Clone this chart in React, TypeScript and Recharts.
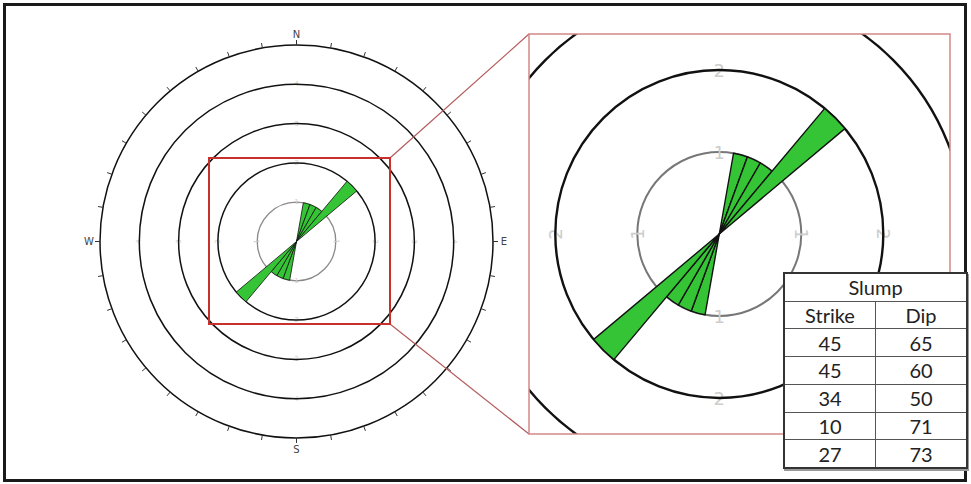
import React from 'react';
import { RadialBarChart, RadialBar, RadarChart, Radar, PolarAngleAxis, PolarRadiusAxis, PolarGrid } from 'recharts';

// ---- data ----
const strikes = [45, 45, 34, 10, 27];
const dips = [65, 60, 50, 71, 73];
const binStarts = [0, 10, 20, 30, 40, 50, 60, 70, 80, 90, 100, 110, 120, 130, 140, 150, 160, 170,
  180, 190, 200, 210, 220, 230, 240, 250, 260, 270, 280, 290, 300, 310, 320, 330, 340, 350];
const compassTicks = binStarts;
const cardinalLabels: Record<number, string> = { 0: 'N', 90: 'E', 180: 'S', 270: 'W' };
const innerRingTicks = [1];
const outerRingTicks = [2, 3, 4];
const labelTicks = [1, 2, 3, 4];
const insetLabelTicks = [1, 2];
const tableTitle = 'Slump';
const tableHeaders = ['Strike', 'Dip'];

// bidirectional rose histogram built from the strikes
const roseData = binStarts.map((b) => ({
  bin: String(b),
  count: strikes.filter((s) => Math.floor(s / 10) * 10 === b || Math.floor(((s + 180) % 360) / 10) * 10 === b).length,
}));
const compassData = compassTicks.map((d) => ({ deg: d, v: 0 }));

const GREEN = '#35c435';
// band start of category i lands on the scale value; shift range by one band so bins read clockwise from N
const START = 80;
const END = -280;

type RoseProps = {
  width: number; height: number; cx: number; cy: number; outerRadius: number;
  showCompass: boolean; labelSize: number; labelColor: string; labels: number[];
  ring1Color: string; ring1Width: number; ringWidth: number; petalStroke: number;
};

const makeRadiusTick = (size: number, color: string, rot: number) => (props: any) => {
  const { x, y, payload } = props;
  return (
    <text x={x} y={y} textAnchor="middle" dominantBaseline="central" fontSize={size} fill={color}
      fontFamily="DejaVu Sans" transform={rot ? `rotate(${rot}, ${x}, ${y})` : undefined}>
      {payload.value}
    </text>
  );
};

const abs: React.CSSProperties = { position: 'absolute', left: 0, top: 0 };

const Rose = (p: RoseProps) => {
  const compassTick = (props: any) => {
    const { x, y, payload } = props;
    const label = cardinalLabels[Number(payload.value)];
    if (!label) return <g />;
    const dx = x - p.cx, dy = y - p.cy;
    const d = Math.hypot(dx, dy) || 1;
    return (
      <text x={x + (dx / d) * 6} y={y + (dy / d) * 6} textAnchor="middle" dominantBaseline="central"
        fontSize={10} fill="#444" fontFamily="DejaVu Sans">{label}</text>
    );
  };
  const axisAngles = [
    { id: 'n', angle: 90, rot: 0 },
    { id: 'e', angle: 0, rot: 90 },
    { id: 's', angle: 270, rot: 0 },
    { id: 'w', angle: 180, rot: -90 },
  ];
  const common = {
    width: p.width, height: p.height, data: roseData, layout: 'centric' as const,
    cx: p.cx, cy: p.cy, innerRadius: 0, outerRadius: p.outerRadius,
    startAngle: START, endAngle: END, barCategoryGap: 0, barGap: 0,
    margin: { top: 0, right: 0, bottom: 0, left: 0 },
  };
  return (
    <div style={{ position: 'relative', width: p.width, height: p.height }}>
      {/* under layer: inner grey ring and faint radius labels */}
      <div style={abs}>
        <RadialBarChart {...common}>
          <PolarAngleAxis angleAxisId={0} type="category" dataKey="bin" tick={false} tickLine={false} axisLine={false} />
          <PolarRadiusAxis radiusAxisId="g1" type="number" domain={[0, 5]} ticks={innerRingTicks}
            tick={false} tickLine={false} axisLine={false} />
          <PolarGrid angleAxisId={0} radiusAxisId="g1" gridType="circle" radialLines={false}
            stroke={p.ring1Color} strokeWidth={p.ring1Width} />
          {axisAngles.map((a) => (
            <PolarRadiusAxis key={a.id} radiusAxisId={a.id} type="number" domain={[0, 5]} ticks={p.labels}
              angle={a.angle} axisLine={false} tickLine={false}
              tick={makeRadiusTick(p.labelSize, p.labelColor, a.rot)} />
          ))}
          <RadialBar angleAxisId={0} radiusAxisId="g1" dataKey="count" fill="none" stroke="none" isAnimationActive={false} />
          {axisAngles.map((a) => (
            <RadialBar key={a.id} angleAxisId={0} radiusAxisId={a.id} dataKey="count" fill="none" stroke="none"
              isAnimationActive={false} />
          ))}
        </RadialBarChart>
      </div>
      {/* main layer: rings and petals */}
      <div style={abs}>
        <RadialBarChart {...common}>
          <PolarAngleAxis angleAxisId={0} type="category" dataKey="bin" tick={false} tickLine={false} axisLine={false} />
          <PolarRadiusAxis radiusAxisId={0} type="number" domain={[0, 5]} ticks={outerRingTicks}
            tick={false} tickLine={false} axisLine={false} />
          <PolarGrid angleAxisId={0} radiusAxisId={0} gridType="circle" radialLines={false}
            stroke="#111" strokeWidth={p.ringWidth} />
          <RadialBar angleAxisId={0} radiusAxisId={0} dataKey="count" fill={GREEN} stroke="#111"
            strokeWidth={p.petalStroke} isAnimationActive={false} />
        </RadialBarChart>
      </div>
      {p.showCompass && (
        <div style={abs}>
          <RadarChart width={p.width} height={p.height} data={compassData} cx={p.cx} cy={p.cy}
            innerRadius={0} outerRadius={p.outerRadius} startAngle={90} endAngle={-270}
            margin={{ top: 0, right: 0, bottom: 0, left: 0 }}>
            <PolarAngleAxis dataKey="deg" axisLineType="circle" axisLine={{ stroke: '#111', strokeWidth: 1.5 }}
              tickLine={{ stroke: '#333', strokeWidth: 1 }} tickSize={5} orient="outer" tick={compassTick} />
            <PolarRadiusAxis domain={[0, 5]} tick={false} axisLine={false} tickLine={false} />
            <Radar dataKey="v" fill="none" stroke="none" isAnimationActive={false} />
          </RadarChart>
        </div>
      )}
    </div>
  );
};

export default function App() {
  const cell: React.CSSProperties = {
    border: '1.5px solid #555', height: 26, padding: 0, textAlign: 'center', verticalAlign: 'middle',
  };
  return (
    <div style={{ position: 'absolute', left: 0, top: 0, width: 971, height: 484, background: '#fff', overflow: 'hidden' }}>
      <div style={{ position: 'absolute', left: 3, top: 3, width: 958, height: 473, border: '3px solid #1a1a1a' }} />
      <div style={{ position: 'absolute', left: 0, top: 0 }}>
        <Rose width={600} height={484} cx={296.5} cy={241.5} outerRadius={196.5} showCompass={true}
          labelSize={7} labelColor="#d0d0d0" labels={labelTicks} ring1Color="#8a8a8a" ring1Width={1.3}
          ringWidth={1.5} petalStroke={0.8} />
      </div>
      <div style={{ position: 'absolute', left: 529, top: 34, width: 421, height: 400, overflow: 'hidden' }}>
        <Rose width={421} height={400} cx={190.3} cy={200} outerRadius={410} showCompass={false}
          labelSize={18} labelColor="#cdcdcd" labels={insetLabelTicks} ring1Color="#777" ring1Width={2}
          ringWidth={2.4} petalStroke={1.4} />
      </div>
      <svg width={971} height={484} style={{ position: 'absolute', left: 0, top: 0, pointerEvents: 'none' }}>
        <line x1={390} y1={158} x2={529} y2={34} stroke="#b45a5a" strokeWidth={1.2} />
        <line x1={390} y1={324} x2={529} y2={434} stroke="#b45a5a" strokeWidth={1.2} />
        <rect x={209} y={158} width={181} height={166} fill="none" stroke="#c8302c" strokeWidth={2} />
        <rect x={529} y={34} width={421} height={400} fill="none" stroke="#d48888" strokeWidth={1.5} />
      </svg>
      <table style={{
        position: 'absolute', left: 783, top: 272, width: 185, height: 197, borderCollapse: 'collapse',
        background: '#fff', fontFamily: 'Lato', fontSize: 20, color: '#222', border: '2px solid #333',
        boxShadow: '1px 2px 0 #999', tableLayout: 'fixed',
      }}>
        <tbody>
          <tr><td colSpan={2} style={cell}>{tableTitle}</td></tr>
          <tr>{tableHeaders.map((h) => <td key={h} style={{ ...cell, width: '50%' }}>{h}</td>)}</tr>
          {strikes.map((s, i) => (
            <tr key={i}><td style={cell}>{s}</td><td style={cell}>{dips[i]}</td></tr>
          ))}
        </tbody>
      </table>
    </div>
  );
}
